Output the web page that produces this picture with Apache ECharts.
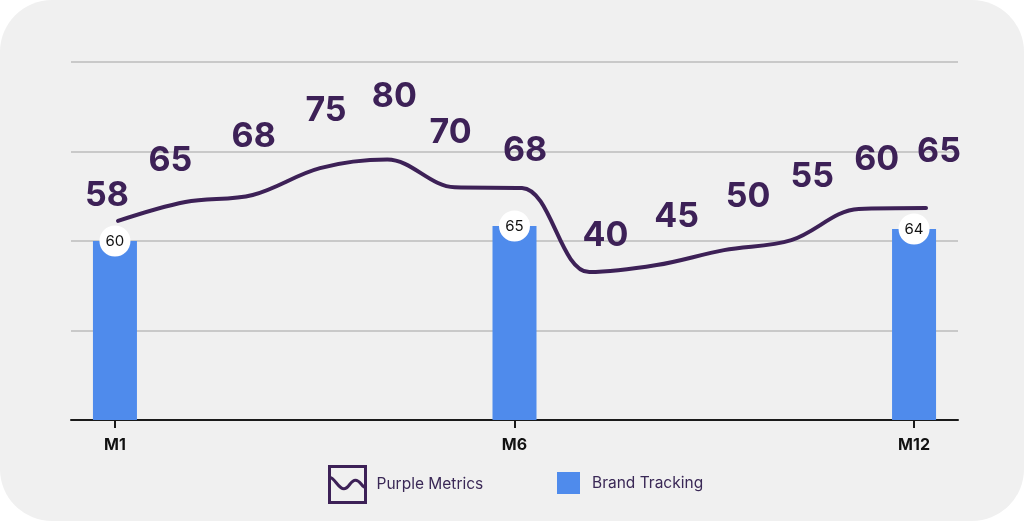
<!DOCTYPE html>
<html><head><meta charset="utf-8">
<script src="https://cdn.jsdelivr.net/npm/echarts@6/dist/echarts.min.js"></script>
<style>
html,body{margin:0;padding:0;background:#ffffff;}
#c{width:1024px;height:521px;background:#f0f0f0;border-radius:52px;overflow:hidden;}
</style></head><body><div id="c"></div>
<script>
// ---- data ----
const categories = ['M1', 'M6', 'M12'];
const barValues = [60, 65, 64];
// printed value labels of the purple series
const labelValues = [58, 65, 68, 75, 80, 70, 68, 40, 45, 50, 55, 60, 65];
// purple curve at the same 13 steps
const lineValues = [59.1, 65.3, 67.6, 76.4, 79.2, 70.1, 69.9, 42.3, 44.6, 49.5, 52.8, 63.0, 63.3];
const yTicks = [0, 30, 60, 90, 120];
// ---- layout tweaks for the printed labels (pixel offsets from each label value's point) ----
const labelShift = [[-11,-28],[-15,-42],[1,-57],[6,-62],[7,-60],[-4,-55],[3,-43],[16,-43],[20,-47],[24,-52],[21,-57],[18,-58],[13,-51]];

const PURPLE = '#3d2157';
const BLUE = '#4f8bec';
const FONT = 'Inter';

const chart = echarts.init(document.getElementById('c'), null, {renderer: 'canvas'});
chart.setOption({
  animation: false,
  backgroundColor: 'transparent',
  grid: {left: 71, right: 66, top: 62, bottom: 101},
  xAxis: [
    {
      type: 'value', min: -0.11, max: 2.11,
      axisLine: {show: true, lineStyle: {color: '#1a1a1a', width: 2}},
      axisTick: {show: true, customValues: categories.map((c, i) => i), length: 8, lineStyle: {color: '#1a1a1a', width: 2}},
      axisLabel: {show: true, customValues: categories.map((c, i) => i), formatter: v => categories[Math.round(v)],
        fontFamily: FONT, fontWeight: 'bold', fontSize: 16, color: '#111111', margin: 17},
      splitLine: {show: false}
    },
    {type: 'value', min: -0.698, max: 12.475, show: false, splitLine: {show: false}}
  ],
  yAxis: [
    {
      type: 'value', min: yTicks[0], max: yTicks[yTicks.length - 1], interval: yTicks[1] - yTicks[0],
      axisLabel: {show: false}, axisLine: {show: false}, axisTick: {show: false},
      splitLine: {show: true, lineStyle: {color: '#c9c9c9', width: 2}}
    },
    {type: 'value', min: -6.2, max: 111.2, show: false, splitLine: {show: false}}
  ],
  legend: [
    {
      data: [{name: 'Purple Metrics', icon: 'path://M0,0L100,0L100,100L0,100Z M0,30 C14,30 24,62 40,62 C54,62 58,38 72,38 C86,38 90,58 100,58'}],
      left: 323, top: 460, itemWidth: 36, itemHeight: 37, selectedMode: false,
      itemStyle: {color: 'transparent', borderColor: PURPLE, borderWidth: 3},
      textStyle: {fontFamily: FONT, fontSize: 15.5, color: '#3a2856', padding: [0, 0, 0, 6]}
    },
    {
      data: [{name: 'Brand Tracking', icon: 'rect'}],
      left: 552, top: 467, itemWidth: 23, itemHeight: 22, selectedMode: false,
      itemStyle: {color: BLUE},
      textStyle: {fontFamily: FONT, fontSize: 15.5, color: '#3a2856', padding: [0, 0, 0, 7]}
    }
  ],
  series: [
    {
      name: 'Brand Tracking', type: 'bar', xAxisIndex: 0, yAxisIndex: 0,
      data: barValues.map((v, i) => [i, v]),
      barWidth: 44,
      itemStyle: {color: BLUE},
      label: {
        show: true, position: ['50%', 0], align: 'center', verticalAlign: 'middle',
        formatter: p => p.value[1],
        backgroundColor: '#ffffff', width: 31, height: 31, lineHeight: 31, borderRadius: 16,
        color: '#111111', fontSize: 15, fontFamily: FONT
      },
      z: 2
    },
    {
      name: 'Purple Metrics', type: 'line', xAxisIndex: 1, yAxisIndex: 1,
      smooth: 0.35,
      data: lineValues.map((v, i) => [i, v]),
      showSymbol: false, symbol: 'none',
      itemStyle: {color: PURPLE},
      lineStyle: {color: PURPLE, width: 4, cap: 'round'},
      z: 3
    },
    {
      name: 'Purple Labels', type: 'scatter', xAxisIndex: 1, yAxisIndex: 1,
      data: labelValues.map((v, i) => ({value: [i, v], label: {offset: labelShift[i]}})),
      symbol: 'circle', symbolSize: 1,
      itemStyle: {color: 'rgba(0,0,0,0)', opacity: 1},
      label: {
        show: true, position: 'inside', formatter: p => p.value[1],
        fontFamily: FONT, fontWeight: 'bold', fontSize: 34, color: PURPLE, opacity: 1
      },
      emphasis: {disabled: true},
      z: 4
    }
  ]
});
</script></body></html>
